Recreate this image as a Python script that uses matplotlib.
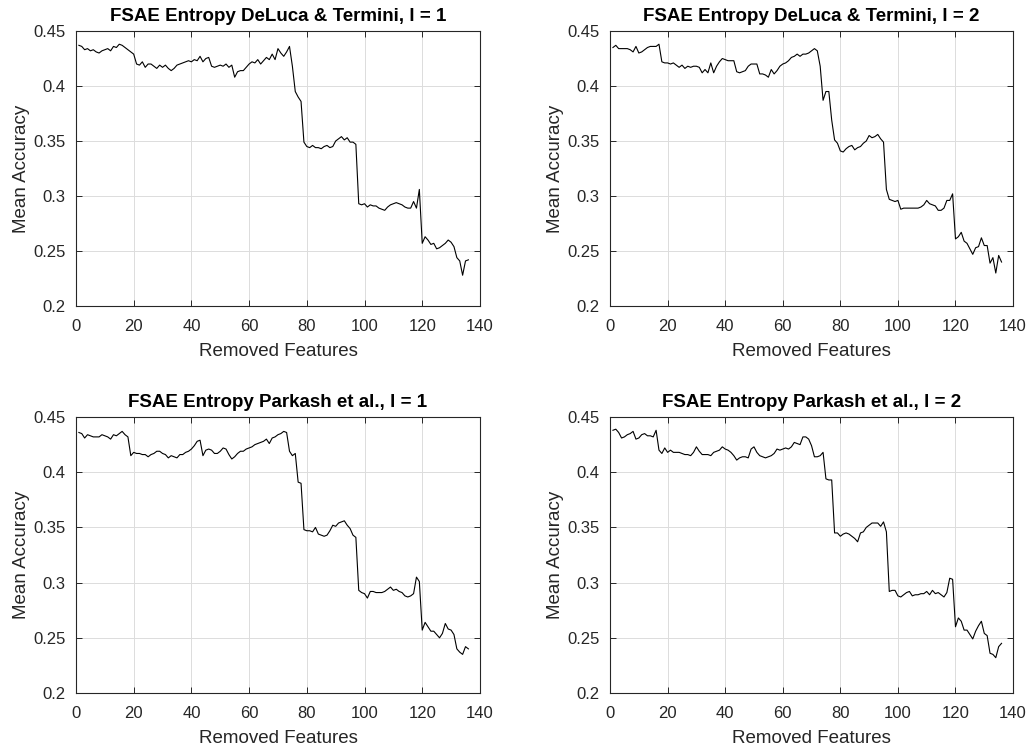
import numpy as np
import matplotlib.pyplot as plt
from matplotlib.ticker import FuncFormatter

plt.rcParams['font.family'] = ['Liberation Sans', 'DejaVu Sans']

# removed features 1..136
x = np.arange(1, 137)

# DeLuca & Termini, l = 1
dt1 = [0.437, 0.436, 0.433, 0.434, 0.432, 0.433, 0.431, 0.430, 0.432, 0.433,
       0.434, 0.432, 0.436, 0.435, 0.438, 0.437, 0.435, 0.433, 0.431, 0.429,
       0.420, 0.419, 0.422, 0.417, 0.420, 0.420, 0.418, 0.416, 0.419, 0.417,
       0.419, 0.416, 0.414, 0.416, 0.419, 0.420, 0.421, 0.422, 0.423, 0.422,
       0.424, 0.423, 0.427, 0.422, 0.425, 0.426, 0.418, 0.417, 0.418, 0.419,
       0.418, 0.420, 0.417, 0.419, 0.408, 0.413, 0.414, 0.414, 0.417, 0.420,
       0.422, 0.421, 0.424, 0.420, 0.423, 0.426, 0.424, 0.429, 0.424, 0.434,
       0.430, 0.427, 0.431, 0.436, 0.418, 0.395, 0.390, 0.386, 0.349, 0.345,
       0.344, 0.346, 0.344, 0.344, 0.343, 0.345, 0.346, 0.344, 0.345, 0.350,
       0.352, 0.354, 0.351, 0.353, 0.349, 0.349, 0.347, 0.293, 0.292, 0.293,
       0.290, 0.292, 0.291, 0.291, 0.289, 0.288, 0.287, 0.290, 0.292, 0.293,
       0.294, 0.293, 0.292, 0.290, 0.289, 0.289, 0.295, 0.289, 0.306, 0.257,
       0.263, 0.260, 0.256, 0.257, 0.252, 0.253, 0.255, 0.257, 0.260, 0.258,
       0.254, 0.244, 0.241, 0.228, 0.241, 0.242]

# DeLuca & Termini, l = 2
dt2 = [0.435, 0.437, 0.434, 0.434, 0.434, 0.434, 0.433, 0.431, 0.436, 0.430,
       0.431, 0.433, 0.435, 0.436, 0.436, 0.436, 0.438, 0.422, 0.421, 0.421,
       0.420, 0.421, 0.419, 0.417, 0.419, 0.416, 0.418, 0.417, 0.418, 0.418,
       0.417, 0.412, 0.415, 0.412, 0.421, 0.412, 0.418, 0.422, 0.425, 0.424,
       0.423, 0.423, 0.423, 0.413, 0.412, 0.413, 0.414, 0.418, 0.420, 0.420,
       0.420, 0.411, 0.411, 0.410, 0.408, 0.415, 0.411, 0.414, 0.418, 0.420,
       0.421, 0.423, 0.426, 0.427, 0.429, 0.427, 0.429, 0.429, 0.430, 0.432,
       0.434, 0.432, 0.418, 0.387, 0.395, 0.395, 0.369, 0.351, 0.348, 0.341,
       0.340, 0.343, 0.345, 0.346, 0.342, 0.344, 0.345, 0.348, 0.350, 0.355,
       0.353, 0.354, 0.356, 0.352, 0.349, 0.306, 0.297, 0.296, 0.295, 0.296,
       0.288, 0.289, 0.289, 0.289, 0.289, 0.289, 0.289, 0.290, 0.292, 0.296,
       0.293, 0.292, 0.291, 0.287, 0.287, 0.289, 0.296, 0.296, 0.302, 0.261,
       0.263, 0.267, 0.259, 0.257, 0.252, 0.247, 0.253, 0.254, 0.262, 0.255,
       0.255, 0.239, 0.244, 0.230, 0.246, 0.240]

# Parkash et al., l = 1
pk1 = [0.436, 0.435, 0.431, 0.434, 0.433, 0.432, 0.432, 0.432, 0.434, 0.433,
       0.432, 0.430, 0.434, 0.433, 0.435, 0.437, 0.434, 0.432, 0.415, 0.418,
       0.417, 0.417, 0.416, 0.416, 0.414, 0.416, 0.417, 0.419, 0.419, 0.417,
       0.416, 0.413, 0.415, 0.414, 0.413, 0.416, 0.416, 0.418, 0.419, 0.421,
       0.424, 0.428, 0.429, 0.415, 0.420, 0.421, 0.420, 0.417, 0.417, 0.419,
       0.422, 0.421, 0.416, 0.412, 0.414, 0.417, 0.419, 0.419, 0.421, 0.422,
       0.423, 0.425, 0.426, 0.427, 0.428, 0.430, 0.426, 0.431, 0.432, 0.434,
       0.435, 0.437, 0.436, 0.419, 0.415, 0.417, 0.391, 0.390, 0.348, 0.347,
       0.347, 0.346, 0.350, 0.344, 0.343, 0.342, 0.343, 0.347, 0.352, 0.351,
       0.354, 0.355, 0.356, 0.352, 0.349, 0.343, 0.341, 0.293, 0.291, 0.290,
       0.286, 0.292, 0.292, 0.291, 0.291, 0.291, 0.292, 0.294, 0.296, 0.293,
       0.294, 0.292, 0.291, 0.288, 0.287, 0.288, 0.290, 0.305, 0.301, 0.257,
       0.264, 0.260, 0.256, 0.256, 0.253, 0.250, 0.254, 0.263, 0.258, 0.257,
       0.253, 0.240, 0.237, 0.235, 0.242, 0.240]

# Parkash et al., l = 2
pk2 = [0.438, 0.439, 0.436, 0.431, 0.432, 0.434, 0.435, 0.437, 0.430, 0.431,
       0.434, 0.435, 0.433, 0.433, 0.432, 0.438, 0.420, 0.417, 0.422, 0.418,
       0.420, 0.418, 0.418, 0.418, 0.417, 0.416, 0.416, 0.415, 0.418, 0.423,
       0.419, 0.416, 0.416, 0.416, 0.415, 0.418, 0.419, 0.420, 0.423, 0.421,
       0.420, 0.418, 0.415, 0.411, 0.413, 0.414, 0.414, 0.413, 0.421, 0.423,
       0.418, 0.415, 0.414, 0.413, 0.414, 0.415, 0.417, 0.421, 0.420, 0.421,
       0.422, 0.421, 0.423, 0.427, 0.426, 0.425, 0.432, 0.432, 0.430, 0.424,
       0.414, 0.414, 0.415, 0.418, 0.394, 0.393, 0.393, 0.345, 0.345, 0.342,
       0.344, 0.345, 0.344, 0.342, 0.340, 0.337, 0.345, 0.346, 0.350, 0.352,
       0.354, 0.354, 0.354, 0.351, 0.355, 0.346, 0.292, 0.293, 0.293, 0.288,
       0.287, 0.289, 0.291, 0.292, 0.288, 0.289, 0.289, 0.290, 0.290, 0.292,
       0.289, 0.293, 0.290, 0.291, 0.289, 0.287, 0.291, 0.304, 0.303, 0.260,
       0.268, 0.265, 0.257, 0.257, 0.253, 0.249, 0.256, 0.261, 0.265, 0.254,
       0.252, 0.236, 0.235, 0.232, 0.242, 0.245]

titles = ['FSAE Entropy DeLuca & Termini, l = 1',
          'FSAE Entropy DeLuca & Termini, l = 2',
          'FSAE Entropy Parkash et al., l = 1',
          'FSAE Entropy Parkash et al., l = 2']
series = [dt1, dt2, pk1, pk2]

# axes boxes in figure fraction (left, bottom, width, height)
boxes = [[0.0737, 0.5925, 0.3918, 0.3662],
         [0.5917, 0.5925, 0.3909, 0.3662],
         [0.0737, 0.0772, 0.3918, 0.3675],
         [0.5917, 0.0772, 0.3909, 0.3675]]

fig = plt.figure(figsize=(10.31, 7.51), dpi=100)
tc = '#262626'
for box, y, t in zip(boxes, series, titles):
    ax = fig.add_axes(box)
    ax.plot(x, y, color='black', lw=0.8)
    ax.set_xlim(0, 140)
    ax.set_ylim(0.2, 0.45)
    ax.set_xticks(np.arange(0, 141, 20))
    ax.set_yticks(np.arange(0.2, 0.451, 0.05))
    ax.yaxis.set_major_formatter(FuncFormatter(lambda v, p: '%g' % round(v, 2)))
    ax.grid(True, color='#dcdcdc', lw=0.7)
    ax.set_axisbelow(True)
    ax.tick_params(direction='in', top=True, right=True, labelsize=12,
                   colors=tc, length=4, width=0.7)
    ax.tick_params(axis='x', pad=9.5)
    ax.tick_params(axis='y', pad=7.5)
    for s in ax.spines.values():
        s.set_color(tc)
        s.set_linewidth(0.8)
    ax.set_xlabel('Removed Features', fontsize=13.5, color=tc, labelpad=6)
    ax.set_ylabel('Mean Accuracy', fontsize=13.5, color=tc, labelpad=2)
    ax.set_title(t, fontsize=13.5, fontweight='bold', pad=7)

fig.savefig('out.png', dpi=100, facecolor='white')
